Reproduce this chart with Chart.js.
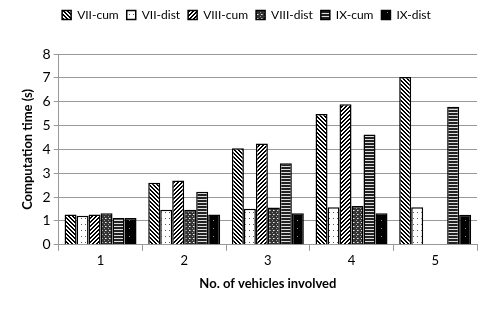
<!DOCTYPE html>
<html lang="en">
<head>
  <meta charset="UTF-8">
  <title>Computation time</title>
  <script src="https://cdn.jsdelivr.net/npm/chart.js"></script>
  <style>
    body { margin: 0; background: #fff; }
    #wrap { width: 485px; height: 310px; }
  </style>
</head>
<body>
  <div id="wrap"><canvas id="chart"></canvas></div>
  <script>
    const vehicles = ["1", "2", "3", "4", "5"];
    const vii_cum   = [1.27, 2.60, 4.05, 5.48, 7.04];
    const vii_dist  = [1.22, 1.47, 1.51, 1.57, 1.57];
    const viii_cum  = [1.27, 2.70, 4.25, 5.89, null];
    const viii_dist = [1.32, 1.47, 1.56, 1.63, null];
    const ix_cum    = [1.12, 2.22, 3.42, 4.62, 5.79];
    const ix_dist   = [1.12, 1.27, 1.32, 1.32, 1.26];

    // small tiles used as bar fills
    function tile(w, h, draw) {
      const c = document.createElement("canvas");
      c.width = w; c.height = h;
      const g = c.getContext("2d");
      draw(g);
      return g.createPattern(c, "repeat");
    }
    const pat = {
      backDiag: tile(4, 4, g => {
        g.fillStyle = "#fff"; g.fillRect(0, 0, 4, 4);
        g.fillStyle = "#000";
        for (let i = 0; i < 4; i++) { g.fillRect(i, i, 1, 1); g.fillRect((i + 1) % 4, i, 1, 1); }
      }),
      fwdDiag: tile(4, 4, g => {
        g.fillStyle = "#fff"; g.fillRect(0, 0, 4, 4);
        g.fillStyle = "#000";
        for (let i = 0; i < 4; i++) { g.fillRect(3 - i, i, 1, 1); g.fillRect((4 - i) % 4, i, 1, 1); }
      }),
      dots: tile(4, 6, g => {
        g.fillStyle = "#fff"; g.fillRect(0, 0, 4, 6);
        g.fillStyle = "#555"; g.fillRect(1, 2, 1, 1);
      }),
      check: tile(4, 4, g => {
        g.fillStyle = "#333"; g.fillRect(0, 0, 4, 4);
        g.fillStyle = "#999"; g.fillRect(0, 0, 1, 1); g.fillRect(2, 2, 1, 1);
        g.fillStyle = "#eee"; g.fillRect(1, 2, 1, 1);
      }),
      hstripe: tile(4, 3, g => {
        g.fillStyle = "#222"; g.fillRect(0, 0, 4, 3);
        g.fillStyle = "#ddd"; g.fillRect(0, 1, 4, 1);
      }),
      blackDots: tile(6, 8, g => {
        g.fillStyle = "#000"; g.fillRect(0, 0, 6, 8);
        g.fillStyle = "#888"; g.fillRect(3, 4, 1, 1);
      })
    };

    const ds = (label, data, fill) => ({
      label, data, backgroundColor: fill, borderColor: "#000", borderWidth: 1.5,
      barPercentage: 1, categoryPercentage: 0.86
    });

    // extra space under the legend
    const legendGap = {
      id: "legendGap",
      beforeInit(chart) {
        const fit = chart.legend.fit;
        chart.legend.fit = function () { fit.bind(chart.legend)(); this.height += 23; };
      }
    };

    const font = "Lato, 'Open Sans', sans-serif";
    new Chart(document.getElementById("chart"), {
      type: "bar",
      data: {
        labels: vehicles,
        datasets: [
          ds("VII-cum", vii_cum, pat.backDiag),
          ds("VII-dist", vii_dist, pat.dots),
          ds("VIII-cum", viii_cum, pat.fwdDiag),
          ds("VIII-dist", viii_dist, pat.check),
          ds("IX-cum", ix_cum, pat.hstripe),
          ds("IX-dist", ix_dist, pat.blackDots)
        ]
      },
      options: {
        responsive: true,
        maintainAspectRatio: false,
        animation: false,
        layout: { padding: { top: 1, right: 8, bottom: 14, left: 16 } },
        plugins: {
          tooltip: { enabled: false },
          legend: {
            position: "top",
            labels: { boxWidth: 9, boxHeight: 9, padding: 8, color: "#000", font: { family: font, size: 12 } }
          }
        },
        scales: {
          x: {
            grid: { display: true, drawOnChartArea: false, offset: true, color: "#999", tickLength: 6 },
            border: { color: "#999" },
            ticks: { color: "#000", padding: 2, font: { family: font, size: 13 } },
            title: { display: true, text: "No. of vehicles involved", color: "#000", padding: { top: 6 }, font: { family: font, size: 13, weight: "bold" } }
          },
          y: {
            min: 0, max: 8,
            ticks: { stepSize: 1, color: "#000", font: { family: font, size: 14 } },
            grid: { color: "#999", tickLength: 5 },
            border: { color: "#999" },
            title: { display: true, text: "Computation time (s)", color: "#000", font: { family: font, size: 13, weight: "bold" } }
          }
        }
      },
      plugins: [legendGap]
    });
  </script>
</body>
</html>
